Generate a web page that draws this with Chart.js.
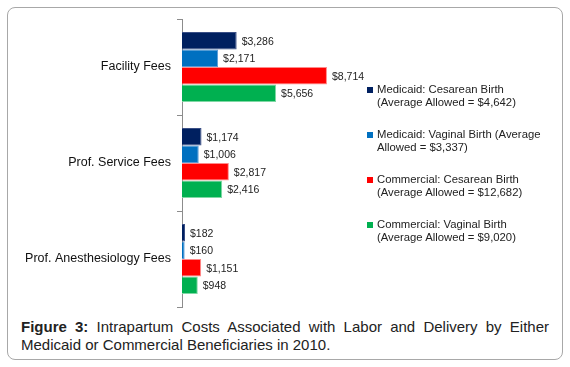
<!DOCTYPE html>
<html>
<head>
<meta charset="utf-8">
<script src="https://cdn.jsdelivr.net/npm/chart.js@4/dist/chart.umd.min.js"></script>
<style>
    body { margin:0; background:#fff; font-family:"Liberation Sans", Arial, sans-serif; }
    #caja { position:absolute; left:7px; top:7px; width:554px; height:351px; border:1px solid #a8a8a8; border-radius:8px; }
    #contenedor { position:absolute; left:0; top:0; width:570px; height:315px; }
    #leyenda { position:absolute; left:367px; top:0; width:200px; font-size:11.3px; color:#222; line-height:13px; }
    .item { position:absolute; left:0; width:200px; }
    .cuadro { position:absolute; left:0; top:4px; width:6px; height:6px; }
    .texto { position:absolute; left:10px; white-space:nowrap; }
    .pie { position:absolute; left:21px; width:528px; font-size:15px; line-height:18px; color:#222; white-space:nowrap; }
    #pie1 { top:318px; text-align:justify; text-align-last:justify; white-space:normal; }
    #pie2 { top:336px; }
</style>
</head>
<body>
<div id="caja"></div>
<div id="contenedor"><canvas id="grafico" width="570" height="315"></canvas></div>
<div id="leyenda"></div>
<div class="pie" id="pie1"><b>Figure 3:</b> Intrapartum Costs Associated with Labor and Delivery by Either</div>
<div class="pie" id="pie2">Medicaid or Commercial Beneficiaries in 2010.</div>
<script>
const categorias = ['Facility Fees', 'Prof. Service Fees', 'Prof. Anesthesiology Fees']

const series = [
    ['Medicaid: Cesarean Birth', '(Average Allowed = $4,642)'],
    ['Medicaid: Vaginal Birth (Average', 'Allowed = $3,337)'],
    ['Commercial: Cesarean Birth', '(Average Allowed = $12,682)'],
    ['Commercial: Vaginal Birth', '(Average Allowed = $9,020)']
]

const medicaidCesarea = [3286, 1174, 182]
const medicaidVaginal = [2171, 1006, 160]
const comercialCesarea = [8714, 2817, 1151]
const comercialVaginal = [5656, 2416, 948]

const colores = [
    ['#002060', '#3a4f86'],
    ['#0070c0', '#5a9ad6'],
    ['#ff0000', '#ff8a8a'],
    ['#00b050', '#7fd8a4']
]

const valores = [medicaidCesarea, medicaidVaginal, comercialCesarea, comercialVaginal]

// etiquetas de valor al final de cada barra
const etiquetasBarras = {
    id: 'etiquetasBarras',
    afterDatasetsDraw(chart){
        const ctx = chart.ctx
        ctx.save()
        ctx.font = '10.5px "Liberation Sans", Arial, sans-serif'
        ctx.fillStyle = '#222'
        ctx.textBaseline = 'middle'
        ctx.textAlign = 'left'
        chart.data.datasets.forEach(function(ds, i){
            chart.getDatasetMeta(i).data.forEach(function(bar, j){
                ctx.fillText('$' + new Intl.NumberFormat('en-US').format(ds.data[j]), bar.x + 5, bar.y + 1)
            })
        })
        ctx.restore()
    }
}

let datasets = []
valores.forEach(function(v, k){
    datasets.push({
        label: series[k].join(' '),
        data: v,
        backgroundColor: colores[k][0],
        borderColor: colores[k][1],
        borderWidth: {top:1, right:1, bottom:1, left:0},
        borderSkipped: 'left',
        barPercentage: 1,
        categoryPercentage: 0.73
    })
})

Chart.defaults.font.family = '"Liberation Sans", Arial, sans-serif'
new Chart(document.getElementById('grafico'), {
    type: 'bar',
    plugins: [etiquetasBarras],
    data: {
        labels: categorias,
        datasets: datasets
    },
    options: {
        indexAxis: 'y',
        responsive: false,
        animation: false,
        layout: { padding: { top: 19, bottom: 8, right: 205, left: 0 } },
        scales: {
            x: { display: false, min: 0, max: 11000 },
            y: {
                afterFit: function(scale){
                    scale.width = 182
                    scale.paddingTop = 0
                    scale.paddingBottom = 0
                },
                border: { color: '#8c8c8c', width: 1 },
                grid: { drawOnChartArea: false, tickLength: 5, color: '#8c8c8c', offset: true },
                ticks: { color: '#111', font: { size: 12.5 }, padding: 6 }
            }
        },
        plugins: {
            legend: { display: false },
            tooltip: { enabled: false }
        }
    }
})

// leyenda en html
const posiciones = [83, 128, 173, 218]
let html = ''
series.forEach(function(s, k){
    html += '<div class="item" style="top:' + posiciones[k] + 'px">' +
        '<div class="cuadro" style="background:' + colores[k][0] + '"></div>' +
        '<div class="texto">' + s[0] + '<br>' + s[1] + '</div></div>'
})
document.getElementById('leyenda').innerHTML = html
</script>
</body>
</html>
